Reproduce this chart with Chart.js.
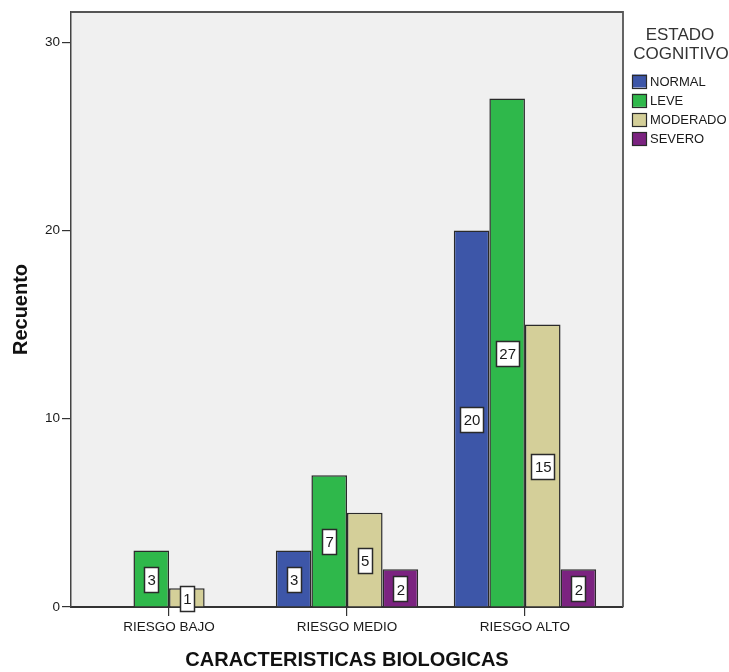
<!DOCTYPE html>
<html>
<head>
<meta charset="utf-8">
<title>Características biológicas por estado cognitivo</title>
<script src="https://cdn.jsdelivr.net/npm/chart.js@4/dist/chart.umd.min.js"></script>
<style>
  html, body { margin: 0; padding: 0; background: #ffffff; }
  #wrap { width: 729px; height: 672px; }
</style>
</head>
<body>
<div id="wrap"><canvas id="chart" width="729" height="672"></canvas></div>
<script>
// Categories on the horizontal axis
const categories = ['RIESGO BAJO', 'RIESGO MEDIO', 'RIESGO ALTO'];

// Counts per cognitive state (one value per category)
const normal   = [0, 3, 20];
const leve     = [3, 7, 27];
const moderado = [1, 5, 15];
const severo   = [0, 2, 2];

const seriesNames = ['NORMAL', 'LEVE', 'MODERADO', 'SEVERO'];
const seriesColors = ['#3d56a8', '#2fb84b', '#d4cf99', '#7b2380'];

// Value-axis ticks
const yTicks = [0, 10, 20, 30];

const FONT = '"Liberation Sans", Arial, Helvetica, sans-serif';

const seriesData = [normal, leve, moderado, severo];
const datasets = seriesData.map((vals, s) => ({
  label: seriesNames[s],
  data: vals.map((v, i) => ({ x: i, y: v })),
  backgroundColor: seriesColors[s],
  borderColor: '#2a2a2a',
  borderWidth: 1.5,
  borderSkipped: 'start',
  categoryPercentage: 0.8,
  barPercentage: 1.0
}));

// Grey plot background with a frame
const plotFrame = {
  id: 'plotFrame',
  beforeDraw(chart) {
    const { ctx, chartArea: a } = chart;
    ctx.save();
    ctx.fillStyle = '#f0f0f0';
    ctx.fillRect(a.left, a.top, a.right - a.left, a.bottom - a.top);
    ctx.restore();
  },
  afterDatasetsDraw(chart) {
    const { ctx, chartArea: a } = chart;
    ctx.save();
    ctx.strokeStyle = '#555555';
    ctx.lineWidth = 1.8;
    ctx.beginPath();
    ctx.moveTo(a.left, a.top);
    ctx.lineTo(a.right, a.top);
    ctx.lineTo(a.right, a.bottom);
    ctx.stroke();
    ctx.restore();
  }
};

// Boxed value labels in the middle of each bar
const valueBoxes = {
  id: 'valueBoxes',
  afterDatasetsDraw(chart) {
    const { ctx } = chart;
    ctx.save();
    ctx.font = '15px ' + FONT;
    ctx.textAlign = 'center';
    ctx.textBaseline = 'middle';
    chart.data.datasets.forEach((ds, di) => {
      const meta = chart.getDatasetMeta(di);
      meta.data.forEach((bar, i) => {
        const v = ds.data[i].y;
        if (!v) return;
        const cx = bar.x;
        const cy = (bar.y + bar.base) / 2 + 1;
        const txt = String(v);
        const w = Math.round(ctx.measureText(txt).width + 6);
        const h = 25;
        const x0 = Math.round(cx - w / 2);
        const y0 = Math.round(cy - h / 2);
        ctx.fillStyle = '#ffffff';
        ctx.fillRect(x0, y0, w, h);
        ctx.strokeStyle = '#2a2a2a';
        ctx.lineWidth = 1.5;
        ctx.strokeRect(x0 + 0.5, y0 + 0.5, w, h);
        ctx.fillStyle = '#1a1a1a';
        ctx.fillText(txt, cx + 0.5, cy + 1.5);
      });
    });
    ctx.restore();
  }
};

// Legend with a two-line title on the right
const sideLegend = {
  id: 'sideLegend',
  afterDraw(chart) {
    const { ctx } = chart;
    ctx.save();
    ctx.fillStyle = '#333333';
    ctx.font = '17px ' + FONT;
    ctx.textAlign = 'center';
    ctx.textBaseline = 'middle';
    ctx.fillText('ESTADO', 680, 35);
    ctx.fillText('COGNITIVO', 681, 54);
    ctx.font = '13px ' + FONT;
    ctx.textAlign = 'left';
    chart.data.datasets.forEach((ds, i) => {
      const y = 81 + i * 19.3;
      ctx.fillStyle = ds.backgroundColor;
      ctx.fillRect(632, y - 6.5, 15, 13);
      ctx.strokeStyle = '#2a2a2a';
      ctx.lineWidth = 1.2;
      ctx.strokeRect(632.5, Math.round(y - 6.5) + 0.5, 14, 13);
      ctx.fillStyle = '#1a1a1a';
      ctx.fillText(ds.label, 650, y + 1);
    });
    ctx.restore();
  }
};

new Chart(document.getElementById('chart'), {
  type: 'bar',
  data: { datasets },
  plugins: [plotFrame, valueBoxes, sideLegend],
  options: {
    responsive: false,
    animation: false,
    layout: { padding: { top: 12, right: 106, bottom: 0, left: 0 } },
    plugins: {
      legend: { display: false },
      tooltip: { enabled: false }
    },
    scales: {
      x: {
        type: 'linear',
        offset: false,
        min: -0.551,
        max: 2.551,
        afterBuildTicks(scale) {
          scale.ticks = categories.map((_, i) => ({ value: i }));
        },
        afterFit(scale) { scale.height = 65; },
        ticks: {
          autoSkip: false,
          maxRotation: 0,
          padding: 3,
          color: '#1a1a1a',
          font: { family: FONT, size: 13.5 },
          callback: (v) => categories[v] ?? ''
        },
        grid: {
          display: true,
          offset: false,
          drawOnChartArea: false,
          drawTicks: true,
          tickLength: 9,
          color: '#333333',
          lineWidth: 1.2
        },
        border: { display: true, color: '#333333', width: 2 },
        title: {
          display: true,
          text: 'CARACTERISTICAS BIOLOGICAS',
          color: '#111111',
          font: { family: FONT, size: 20, weight: 'bold' },
          padding: { top: 0, bottom: 0 }
        }
      },
      y: {
        min: 0,
        max: 31.6,
        afterBuildTicks(scale) {
          scale.ticks = yTicks.map(v => ({ value: v }));
        },
        afterFit(scale) { scale.width = 71; },
        ticks: {
          padding: 2,
          color: '#1a1a1a',
          font: { family: FONT, size: 13.5 }
        },
        grid: {
          display: true,
          drawOnChartArea: false,
          drawTicks: true,
          tickLength: 9,
          color: '#333333',
          lineWidth: 1.2
        },
        border: { display: true, color: '#444444', width: 1.5 },
        title: {
          display: true,
          text: 'Recuento',
          color: '#111111',
          font: { family: FONT, size: 20, weight: 'bold' },
          padding: { top: 9, bottom: 0 }
        }
      }
    }
  }
});
</script>
</body>
</html>
